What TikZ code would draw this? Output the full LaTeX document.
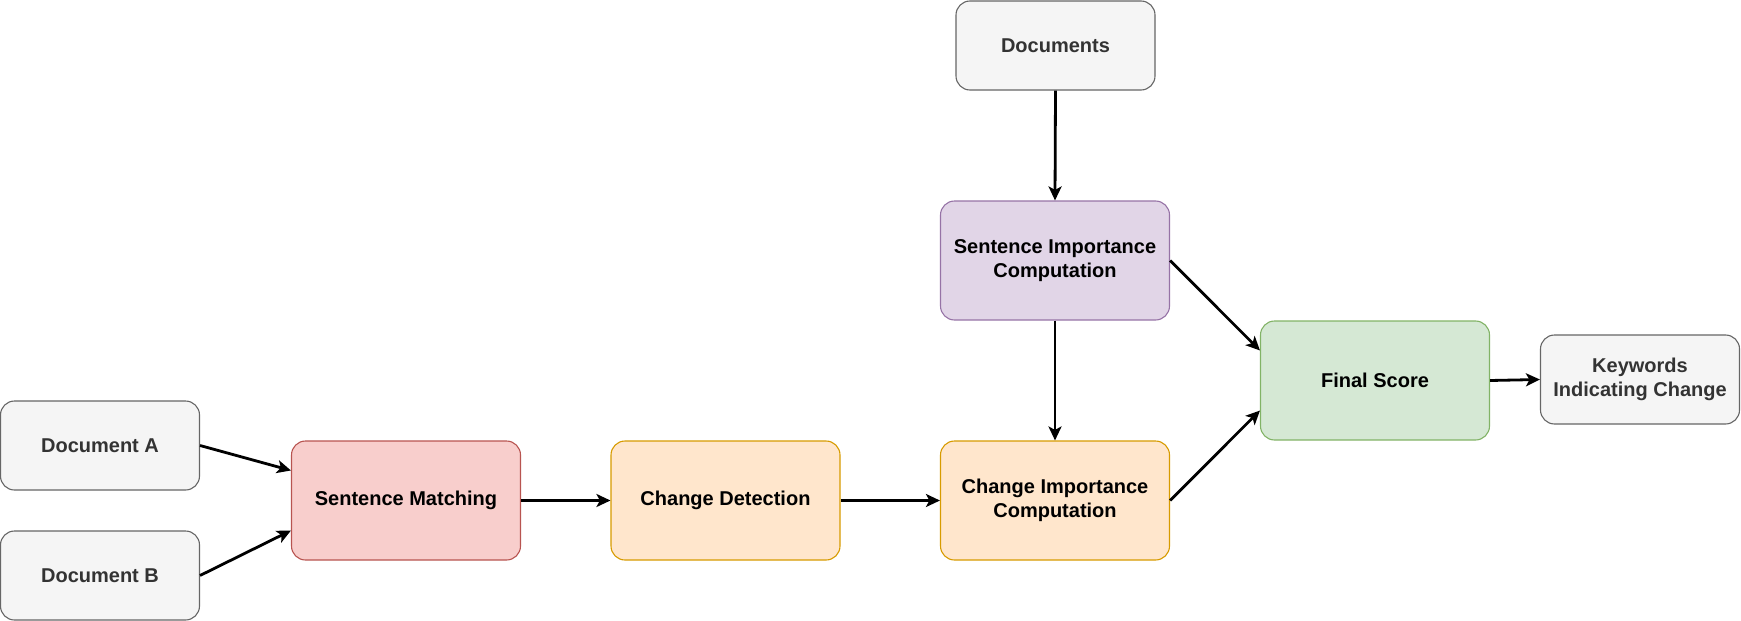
\documentclass[tikz,border=0pt]{standalone}
\usepackage{fontspec}
\setmainfont{Liberation Sans}
\usetikzlibrary{arrows.meta,calc}
\definecolor{grayfill}{HTML}{F5F5F5}
\definecolor{graydraw}{HTML}{666666}
\definecolor{graytext}{HTML}{333333}
\definecolor{redfill}{HTML}{F8CECC}
\definecolor{reddraw}{HTML}{B85450}
\definecolor{orfill}{HTML}{FFE6CC}
\definecolor{ordraw}{HTML}{D79B00}
\definecolor{pufill}{HTML}{E1D5E7}
\definecolor{pudraw}{HTML}{9673A6}
\definecolor{grfill}{HTML}{D5E8D4}
\definecolor{grdraw}{HTML}{82B366}
\tikzset{
  box/.style={rectangle, rounded corners=14pt, line width=1.1pt, align=center,
    font=\fontsize{20}{23.5}\selectfont\bfseries, inner sep=0pt},
  smallbox/.style={box, minimum width=199pt, minimum height=89pt, fill=grayfill, draw=graydraw, text=graytext},
  bigbox/.style={box, minimum width=229pt, minimum height=119pt},
  conn/.style={line width=2.8pt, -{Stealth[length=14pt,width=13pt,inset=3.5pt]}}
}
\begin{document}
\begin{tikzpicture}[x=1pt,y=-1pt]
\useasboundingbox (0,0) rectangle (1741,621);
\node[smallbox] (docA) at (100,445.5) {Document A};
\node[smallbox] (docB) at (100,575.5) {Document B};
\node[smallbox] (docs) at (1055.5,45.5) {Documents};
\node[smallbox] (kw) at (1640,379.5) {Keywords\\Indicating Change};
\node[bigbox, fill=redfill, draw=reddraw] (sm) at (406,500.5) {Sentence Matching};
\node[bigbox, fill=orfill, draw=ordraw] (cd) at (725.5,500.5) {Change Detection};
\node[bigbox, fill=orfill, draw=ordraw] (ci) at (1055,500.5) {Change Importance\\Computation};
\node[bigbox, fill=pufill, draw=pudraw] (si) at (1055,260.5) {Sentence Importance\\Computation};
\node[bigbox, fill=grfill, draw=grdraw] (fs) at (1375,380.5) {Final Score};
\draw[conn] (docA.east) -- ($(sm.north west)!0.25!(sm.south west)$);
\draw[conn] (docB.east) -- ($(sm.north west)!0.75!(sm.south west)$);
\draw[conn] (sm.east) -- (cd.west);
\draw[conn] (cd.east) -- (ci.west);
\draw[conn] (docs.south) -- (si.north);
\draw[conn] (si.south) -- (ci.north);
\draw[conn] (si.east) -- ($(fs.north west)!0.25!(fs.south west)$);
\draw[conn] (ci.east) -- ($(fs.north west)!0.75!(fs.south west)$);
\draw[conn] (fs.east) -- (kw.west);
\end{tikzpicture}
\end{document}
